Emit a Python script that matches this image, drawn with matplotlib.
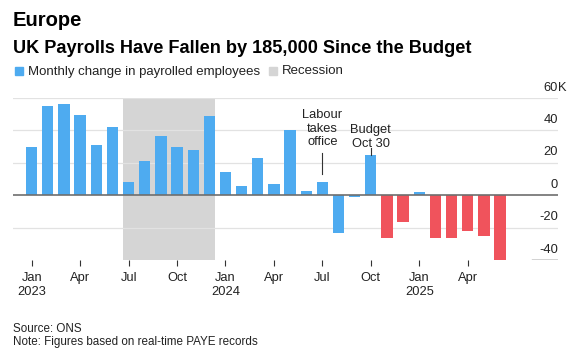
import matplotlib
matplotlib.use("Agg")
import matplotlib.pyplot as plt
from matplotlib.patches import Rectangle

plt.rcParams["font.family"] = ["Liberation Sans", "DejaVu Sans"]

# monthly change in payrolled employees, thousands, Jan 2023 .. Jun 2025
values = [
    29.6, 55.3, 56.1, 49.3, 31.2, 41.9, 8.0, 21.4, 36.6, 29.8, 27.7, 48.9,
    14.6, 5.4, 23.0, 7.2, 40.3, 2.7, 8.2, -23.4, -1.2, 24.6, -26.3, -16.4,
    1.8, -26.3, -26.7, -22.4, -25.3, -41.0,
]
tick_pos = [0, 3, 6, 9, 12, 15, 18, 21, 24, 27]
tick_labels = ["Jan\n2023", "Apr", "Jul", "Oct", "Jan\n2024", "Apr", "Jul", "Oct", "Jan\n2025", "Apr"]
y_ticks = [-40, -20, 0, 20, 40, 60]
y_labels = ["-40", "-20", "0", "20", "40", "60"]
recession = (6, 11)      # Jul 2023 .. Dec 2023
labour_idx = 18          # Jul 2024
budget_idx = 21          # Oct 2024

BLUE = "#4EABF0"
RED = "#F0535C"
SHADE = "#D5D5D5"
W, H = 579, 361


def fx(px):
    return px / W


def fy(py):
    return 1 - py / H


fig = plt.figure(figsize=(W / 100, H / 100), dpi=100)
ax = fig.add_axes([fx(13.3), fy(260), fx(558) - fx(13.3), fy(98) - fy(260)])

bw = 0.7
x = list(range(len(values)))
colors = [RED if (i > budget_idx and v < 0) else BLUE for i, v in zip(x, values)]
ax.bar(x, values, width=bw, color=colors, zorder=3)

ax.axvspan(recession[0] - bw / 2, recession[1] + bw / 2, color=SHADE, zorder=1, lw=0)

for v in y_ticks:
    if v == 0:
        ax.axhline(0, color="#6e6e6e", lw=1.2, zorder=4)
    elif v == -40:
        ax.axhline(v, xmin=0.952, xmax=1, color="#222222", lw=1.0, zorder=4)
    else:
        ax.axhline(v, color="#e2e2e2", lw=0.9, zorder=2)

ax.set_xlim(-1.139, 32.59)
ax.set_ylim(-40, 60)

for v, lab in zip(y_ticks, y_labels):
    ax.annotate(lab, xy=(1.0, v), xycoords=("axes fraction", "data"),
                xytext=(0, 5.3), textcoords="offset points",
                ha="right", va="baseline", fontsize=9.3, color="#222222")
ax.annotate("K", xy=(1.0, 60), xycoords=("axes fraction", "data"),
            xytext=(0, 5.3), textcoords="offset points",
            ha="left", va="baseline", fontsize=9.3, color="#222222")

ax.set_xticks(tick_pos, tick_labels)
ax.tick_params(axis="x", length=4, width=0.8, color="#333333", pad=4.5,
               labelsize=9.3, labelcolor="#222222")
ax.set_yticks([])
for s in ax.spines.values():
    s.set_visible(False)

# annotations
ax.text(labour_idx, 30.9, "Labour\ntakes\noffice", ha="center", va="baseline",
        fontsize=9.3, color="#222222", linespacing=1.15)
ax.plot([labour_idx, labour_idx], [12.8, 26.3], color="#333333", lw=0.8, zorder=5)
ax.text(budget_idx, 30.0, "Budget\nOct 30", ha="center", va="baseline",
        fontsize=9.3, color="#222222", linespacing=1.15)
ax.plot([budget_idx, budget_idx], [values[budget_idx], 29.4], color="#333333", lw=0.8, zorder=5)

# titles and legend
fig.text(fx(13), fy(26), "Europe", fontsize=14.5, fontweight="bold", va="baseline")
fig.text(fx(13), fy(53.3), "UK Payrolls Have Fallen by 185,000 Since the Budget",
         fontsize=13.1, fontweight="bold", va="baseline")
fig.patches.append(Rectangle((fx(14.5), fy(74.5)), 8 / W, 8 / H, color=BLUE, transform=fig.transFigure))
fig.text(fx(28), fy(74.5), "Monthly change in payrolled employees", fontsize=9.5,
         va="baseline", color="#222222")
fig.patches.append(Rectangle((fx(269), fy(74.5)), 8 / W, 8 / H, color=SHADE, transform=fig.transFigure))
fig.text(fx(282), fy(74.5), "Recession", fontsize=9.5, va="baseline", color="#222222")

fig.text(fx(13), fy(331.5), "Source: ONS", fontsize=8.4, va="baseline", color="#222222")
fig.text(fx(13), fy(344.5), "Note: Figures based on real-time PAYE records", fontsize=8.4,
         va="baseline", color="#222222")

fig.savefig("out.png", dpi=100)
